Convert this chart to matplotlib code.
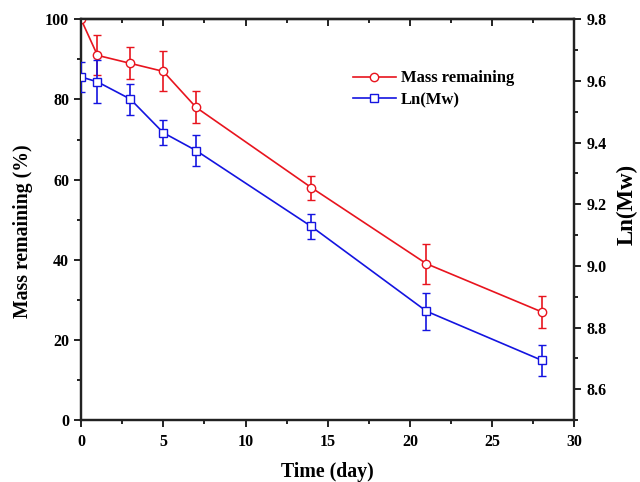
import matplotlib
matplotlib.use("Agg")
import matplotlib.pyplot as plt
from matplotlib.ticker import MultipleLocator
from matplotlib.lines import Line2D

plt.rcParams['font.family'] = ['Liberation Serif', 'DejaVu Serif']
plt.rcParams['font.weight'] = 'bold'

days = [0, 1, 3, 5, 7, 14, 21, 28]
mass = [100, 91, 89, 87, 78, 58, 39, 27]
mass_err = [0, 5, 4, 5, 4, 3, 5, 4]
lnmw = [9.613, 9.597, 9.541, 9.432, 9.374, 9.128, 8.853, 8.694]
lnmw_err = [0.05, 0.07, 0.05, 0.04, 0.05, 0.04, 0.06, 0.05]

fig = plt.figure(figsize=(6.4, 4.82), dpi=100)
ax = fig.add_axes([0.1266, 0.1286, 0.771, 0.8314])
ax2 = ax.twinx()

red = '#e8141e'
blue = '#1414e0'

ax.errorbar(days, mass, yerr=mass_err, color=red, lw=1.2, marker='o', ms=6,
            mfc='white', mec=red, mew=1.0, capsize=3, elinewidth=1.2, capthick=1.2,
            zorder=3)
ax2.errorbar(days, lnmw, yerr=lnmw_err, color=blue, lw=1.2, marker='s', ms=5.5,
             mfc='white', mec=blue, mew=1.0, capsize=3, elinewidth=1.2, capthick=1.2,
             zorder=3)

ax.set_xlim(0, 30)
ax.set_ylim(0, 100)
ax2.set_ylim(8.5, 9.8)

ax.xaxis.set_major_locator(MultipleLocator(5))
ax.xaxis.set_minor_locator(MultipleLocator(2.5))
ax.yaxis.set_major_locator(MultipleLocator(20))
ax.yaxis.set_minor_locator(MultipleLocator(10))
ax2.yaxis.set_major_locator(MultipleLocator(0.2))
ax2.yaxis.set_minor_locator(MultipleLocator(0.1))

for a in (ax, ax2):
    for s in a.spines.values():
        s.set_linewidth(1.6)
        s.set_color('#222222')

ax.tick_params(axis='x', which='both', direction='out', top=False, labelsize=11.5, width=1.4, color='#222222', pad=5)
ax.tick_params(axis='x', which='major', length=5)
ax.tick_params(axis='x', which='minor', length=3)
ax.tick_params(axis='y', which='both', direction='out', labelsize=11.5, width=1.4, color='#222222')
ax.tick_params(axis='y', which='major', length=5)
ax.tick_params(axis='y', which='minor', length=3)
ax2.tick_params(axis='y', which='both', direction='out', labelsize=11.5, width=1.4, color='#222222')
ax2.tick_params(axis='y', which='major', length=5)
ax2.tick_params(axis='y', which='minor', length=3)

# top ticks inward
top = ax.secondary_xaxis('top')
top.xaxis.set_major_locator(MultipleLocator(5))
top.xaxis.set_minor_locator(MultipleLocator(2.5))
top.tick_params(axis='x', which='both', direction='in', labeltop=False, width=1.4, color='#222222')
top.tick_params(axis='x', which='major', length=5)
top.tick_params(axis='x', which='minor', length=3)
top.spines['top'].set_linewidth(1.6)

for lab in ax.get_xticklabels() + ax.get_yticklabels() + ax2.get_yticklabels():
    lab.set_fontweight('bold')

ax.set_xlabel('Time (day)', fontsize=14.3, fontweight='bold')
ax.set_ylabel('Mass remaining (%)', fontsize=14.2, fontweight='bold')
ax2.set_ylabel('Ln(Mw)', fontsize=16.5, fontweight='bold')
ax.xaxis.set_label_coords(0.5, -0.1286)
ax.xaxis.label.set_va('center')
ax.yaxis.set_label_coords(-0.1176, 0.472)
ax.yaxis.label.set_va('center')
ax2.yaxis.set_label_coords(1.106, 0.537)
ax2.yaxis.label.set_va('center')

handles = [
    Line2D([], [], color=red, lw=1.2, marker='o', ms=6, mfc='white', mec=red),
    Line2D([], [], color=blue, lw=1.2, marker='s', ms=5.5, mfc='white', mec=blue),
]
ax.legend(handles, ['Mass remaining', 'Ln(Mw)'], loc='upper left',
          bbox_to_anchor=(0.52, 0.91), frameon=False,
          prop={'weight': 'bold', 'size': 12}, handlelength=2.6, handletextpad=0.3,
          labelspacing=0.35)

fig.savefig('out.png', dpi=100)
